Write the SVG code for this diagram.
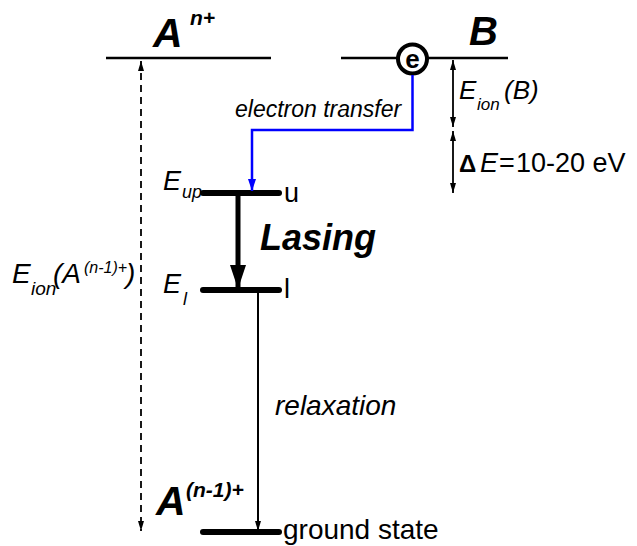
<svg xmlns="http://www.w3.org/2000/svg" width="637" height="546" viewBox="0 0 637 546">
<style>
text{font-family:"Liberation Sans",Arial,sans-serif;fill:#000}
.i{font-style:italic}
.b{font-weight:bold}
.lvl{stroke:#000;stroke-width:6;stroke-linecap:round}
.thin{stroke:#000;stroke-width:2.5}
</style>
<defs>
<marker id="ah" viewBox="0 0 10 6" refX="10" refY="3" markerWidth="10" markerHeight="6" markerUnits="userSpaceOnUse" orient="auto-start-reverse"><path d="M0,0 L10,3 L0,6 z" fill="#000"/></marker>
<marker id="ahb" viewBox="0 0 12 8" refX="12" refY="4" markerWidth="12" markerHeight="8" markerUnits="userSpaceOnUse" orient="auto"><path d="M0,0 L12,4 L0,8 z" fill="#0000ff"/></marker>
<marker id="ahL" viewBox="0 0 24 16" refX="24" refY="8" markerWidth="24" markerHeight="16" markerUnits="userSpaceOnUse" orient="auto"><path d="M0,0 L24,8 L0,16 z" fill="#000"/></marker>
</defs>
<rect width="637" height="546" fill="#fff"/>

<g id="levelA">
<line x1="106" y1="58" x2="271" y2="58" class="thin"/>
<text x="153" y="47" class="b i" font-size="41">A</text>
<text x="190" y="25" class="b i" font-size="21">n+</text>
</g>

<g id="levelB">
<line x1="341" y1="58" x2="508" y2="58" class="thin"/>
<text x="469" y="45" class="b i" font-size="40">B</text>
</g>

<g id="electron">
<circle cx="412.5" cy="59" r="14.5" fill="#fff" stroke="#000" stroke-width="4"/>
<text x="412.5" y="68" class="b" font-size="26" text-anchor="middle">e</text>
</g>

<g id="upper">
<line x1="203" y1="193" x2="279" y2="193" class="lvl"/>
<text x="163" y="190" class="i" font-size="27">E</text>
<text x="182" y="198" class="i" font-size="18">up</text>
<text x="284" y="202" font-size="27">u</text>
</g>

<g id="lower">
<line x1="203" y1="290" x2="279" y2="290" class="lvl"/>
<text x="163" y="293" class="i" font-size="27">E</text>
<text x="183" y="305" class="i" font-size="18">l</text>
<text x="284" y="298" font-size="27">l</text>
</g>

<g id="ground">
<line x1="203" y1="532" x2="279" y2="532" class="lvl"/>
<text x="283" y="539" font-size="28">ground state</text>
<text x="156" y="515" class="b i" font-size="41">A</text>
<text x="186" y="497" class="b i" font-size="21">(n-1)+</text>
</g>

<g id="labels">
<text x="235" y="117" class="i" font-size="23">electron transfer</text>
<text x="459" y="99" class="i" font-size="26">E</text>
<text x="477" y="110" class="i" font-size="17">ion</text>
<text x="504" y="99" class="i" font-size="26">(B)</text>
<text y="172" font-size="27"><tspan x="459" class="b" font-size="24">Δ</tspan><tspan x="480" class="i">E</tspan><tspan x="499">=</tspan><tspan x="516">10-20 eV</tspan></text>
<text x="260" y="250" class="b i" font-size="36">Lasing</text>
<text x="275" y="415" class="i" font-size="28">relaxation</text>
<text x="12" y="283" class="i" font-size="28">E</text>
<text x="31" y="295" class="i" font-size="19">ion</text>
<text x="53" y="283" class="i" font-size="28">(A</text>
<text x="84" y="273" class="i" font-size="16">(n-1)+</text>
<text x="126" y="283" class="i" font-size="28">)</text>
</g>

<g id="connectors">
<line x1="141" y1="61" x2="141" y2="531" stroke="#000" stroke-width="1.8" stroke-dasharray="7,5" marker-start="url(#ah)" marker-end="url(#ah)"/>
<line x1="453" y1="60" x2="453" y2="127" stroke="#000" stroke-width="1.8" marker-start="url(#ah)" marker-end="url(#ah)"/>
<line x1="453" y1="131" x2="453" y2="193" stroke="#000" stroke-width="1.8" marker-start="url(#ah)" marker-end="url(#ah)"/>
<path d="M412.5,75 V130 H252 V191" fill="none" stroke="#0000ff" stroke-width="2.5" marker-end="url(#ahb)"/>
<line x1="238" y1="196" x2="238" y2="289" stroke="#000" stroke-width="5" marker-end="url(#ahL)"/>
<line x1="258" y1="290" x2="258" y2="531" stroke="#000" stroke-width="2" marker-end="url(#ah)"/>
</g>
</svg>
